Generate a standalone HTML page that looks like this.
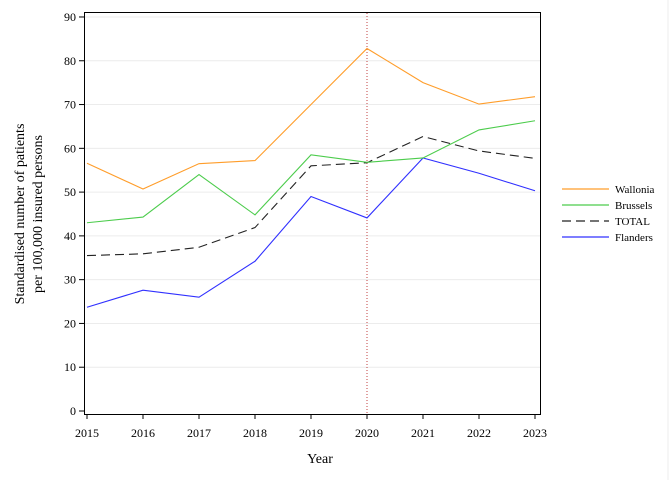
<!DOCTYPE html>
<html><head><meta charset="utf-8"><style>
html,body{margin:0;padding:0;background:#fff;}
svg{display:block;font-family:"Liberation Serif",serif;}
</style></head><body>
<svg id="chart" width="672" height="480" xmlns="http://www.w3.org/2000/svg">
<line x1="668" y1="0" x2="668" y2="480" stroke="#eee"/>
<g id="grid"></g>
<g id="series"></g>
<rect x="84.5" y="12.5" width="456" height="402" fill="none" stroke="#000"/>
<g id="axes"></g>
<text x="320" y="463" font-size="14" text-anchor="middle">Year</text>
<text transform="translate(24,214) rotate(-90)" font-size="14" text-anchor="middle"><tspan x="0" dy="0">Standardised number of patients</tspan><tspan x="0" dy="18">per 100,000 insured persons</tspan></text>
<g id="legend"></g>
</svg>
<script>
const years = [2015,2016,2017,2018,2019,2020,2021,2022,2023];
const wallonia = [56.6,50.7,56.5,57.2,70.0,82.8,75.0,70.1,71.8];
const brussels = [43.0,44.3,54.0,44.8,58.5,56.8,57.8,64.2,66.3];
const total = [35.5,35.9,37.4,41.9,56.0,56.7,62.7,59.4,57.7];
const flanders = [23.7,27.6,26.0,34.2,49.0,44.1,57.8,54.3,50.3];
const yTicks = [0,10,20,30,40,50,60,70,80,90];
const refYear = 2020;
const NS="http://www.w3.org/2000/svg";
const x = v => 87 + (v-2015)*56;
const y = v => 411 - v*4.378;
function mk(tag, attrs, parent){const e=document.createElementNS(NS,tag);for(const k in attrs)e.setAttribute(k,attrs[k]);parent.appendChild(e);return e;}
const grid=document.getElementById('grid'), axes=document.getElementById('axes'), series=document.getElementById('series'), legend=document.getElementById('legend');
yTicks.forEach(t=>{
  if(t>0){const g=mk('line',{x1:85,x2:540,y1:y(t),y2:y(t),stroke:'#ececec'},grid);
  
  }
  const tk=mk('line',{x1:79,x2:84,y1:y(t),y2:y(t),stroke:'#000'},axes);
  
  
  const tx=mk('text',{x:76,y:y(t)+4,'font-size':12,'text-anchor':'end'},axes);
  tx.textContent=t;
  
  
});
years.forEach(yr=>{
  const tk=mk('line',{x1:x(yr),x2:x(yr),y1:414,y2:419,stroke:'#000'},axes);
  
  
  const tx=mk('text',{x:x(yr),y:437,'font-size':12,'text-anchor':'middle'},axes);
  tx.textContent=yr;
  
  
});
const ref=mk('line',{x1:x(refYear),x2:x(refYear),y1:13,y2:414,stroke:'#c04040','stroke-dasharray':'1,2'},series);


const defs=[['Wallonia',wallonia,'#ff9d2a',''],['Brussels',brussels,'#4ccc4c',''],['TOTAL',total,'#222','9,5'],['Flanders',flanders,'#3030ff','']];
function drawLine(vals,color,dash,name){
  const p=mk('polyline',{points:vals.map((v,i)=>x(years[i])+','+y(v)).join(' '),fill:'none',stroke:color,'stroke-width':1.1,'stroke-dasharray':dash},series);
  
  
}
drawLine(flanders,'#3030ff','','Flanders');
drawLine(total,'#222','9,5','TOTAL');
drawLine(brussels,'#4ccc4c','','Brussels');
drawLine(wallonia,'#ff9d2a','','Wallonia');
defs.forEach((d,i)=>{
  const ly=189+i*16;
  const l=mk('line',{x1:562,x2:609,y1:ly,y2:ly,stroke:d[2],'stroke-width':1.2,'stroke-dasharray':d[3]},legend);
  
  
  const t=mk('text',{x:615,y:ly+4,'font-size':11},legend);
  t.textContent=d[0];
  
  
});
</script>
</body></html>
